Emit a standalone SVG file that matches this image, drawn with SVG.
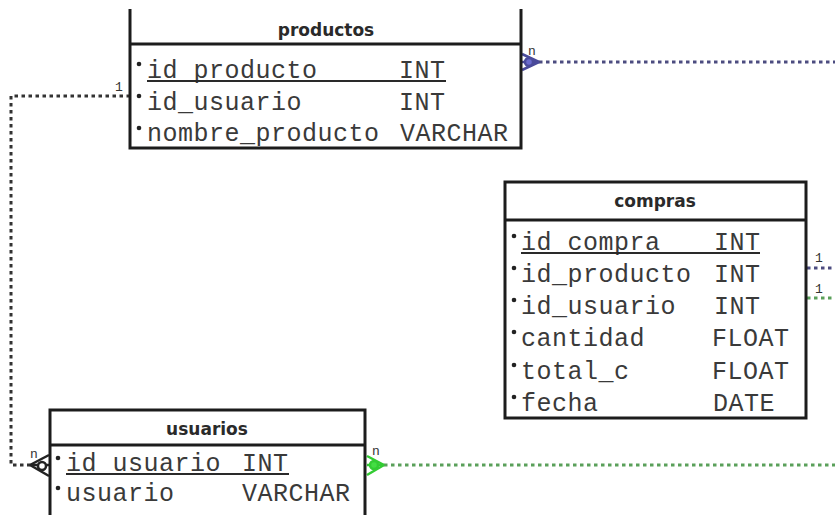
<svg xmlns="http://www.w3.org/2000/svg" width="835" height="515" viewBox="0 0 835 515">
  <style>
    .frame { fill: #fff; stroke: #1c1c1c; stroke-width: 3; }
    .sep { stroke: #1c1c1c; stroke-width: 3; }
    .title { font-family: "DejaVu Sans", Verdana, sans-serif; font-weight: bold; font-size: 17px; fill: #2a2a2a; text-anchor: middle; }
    .fld { font-family: "Liberation Mono", "Courier New", monospace; font-size: 25px; letter-spacing: 0.5px; fill: #3a3a3a; }
    .pk { stroke: #2a2a2a; stroke-width: 2; }
    .bul { fill: #222; }
    .card { font-family: "Liberation Mono", "Courier New", monospace; font-size: 13px; fill: #333; }
    .rel-black { fill: none; stroke: #333; stroke-width: 3; stroke-dasharray: 3.5 3.5; }
    .rel-blue { fill: none; stroke: #4c4c80; stroke-width: 3; stroke-dasharray: 3.5 3.5; }
    .rel-green { fill: none; stroke: #5aa05a; stroke-width: 3; stroke-dasharray: 3.5 3.5; }
  </style>

  <!-- relationship lines -->
  <g id="connectors">
    <!-- productos.id_usuario -> usuarios.id_usuario -->
    <polyline class="rel-black" points="130,96 11,96 11,465 30,465"/>
    <g stroke="#222" stroke-width="2.5" fill="none">
      <line x1="30" y1="465" x2="49" y2="455"/>
      <line x1="30" y1="465" x2="49" y2="465"/>
      <line x1="30" y1="465" x2="49" y2="476"/>
      <circle cx="42" cy="466" r="4" fill="#fff"/>
    </g>
    <text class="card" x="115" y="91">1</text>
    <text class="card" x="30" y="458">n</text>

    <!-- productos -> compras.id_producto -->
    <line class="rel-blue" x1="539" y1="62" x2="835" y2="62"/>
    <g stroke="#4a4a9a" stroke-width="2.5" fill="none">
      <line x1="539" y1="62" x2="522" y2="54"/>
      <line x1="539" y1="62" x2="522" y2="62"/>
      <line x1="539" y1="62" x2="522" y2="70"/>
      <circle cx="529" cy="62" r="4" fill="#6a6acc"/>
    </g>
    <text class="card" x="528" y="55">n</text>
    <line class="rel-blue" x1="807" y1="268" x2="835" y2="268"/>
    <text class="card" x="815" y="262">1</text>

    <!-- usuarios -> compras.id_usuario -->
    <line class="rel-green" x1="384" y1="465" x2="835" y2="465"/>
    <g stroke="#33cc33" stroke-width="2.5" fill="none">
      <line x1="384" y1="465" x2="367" y2="456"/>
      <line x1="384" y1="465" x2="367" y2="465"/>
      <line x1="384" y1="465" x2="367" y2="475"/>
      <circle cx="374" cy="465" r="4" fill="#44dd44"/>
    </g>
    <text class="card" x="372" y="455">n</text>
    <line class="rel-green" x1="807" y1="298" x2="835" y2="298"/>
    <text class="card" x="815" y="293" fill="#3a7a3a">1</text>
  </g>

  <!-- productos -->
  <g id="productos">
    <path class="frame" d="M130,9 V148 H521 V9"/>
    <line class="sep" x1="130" y1="44" x2="521" y2="44"/>
    <text class="title" x="326" y="36">productos</text>
    <circle class="bul" cx="139" cy="64" r="2.3"/>
    <circle class="bul" cx="139" cy="96" r="2.3"/>
    <circle class="bul" cx="139" cy="128" r="2.3"/>
    <text class="fld" x="147" y="78">id_producto</text>
    <text class="fld" x="399" y="78">INT</text>
    <line class="pk" x1="147" y1="81" x2="446" y2="81"/>
    <text class="fld" x="147" y="110">id_usuario</text>
    <text class="fld" x="399" y="110">INT</text>
    <text class="fld" x="147" y="141">nombre_producto</text>
    <text class="fld" x="400" y="141">VARCHAR</text>
  </g>

  <!-- compras -->
  <g id="compras">
    <rect class="frame" x="505" y="182" width="301" height="236"/>
    <line class="sep" x1="505" y1="220" x2="806" y2="220"/>
    <text class="title" x="655" y="207">compras</text>
    <circle class="bul" cx="514" cy="236" r="2.3"/>
    <circle class="bul" cx="514" cy="268" r="2.3"/>
    <circle class="bul" cx="514" cy="300" r="2.3"/>
    <circle class="bul" cx="514" cy="332" r="2.3"/>
    <circle class="bul" cx="514" cy="365" r="2.3"/>
    <circle class="bul" cx="514" cy="397" r="2.3"/>
    <text class="fld" x="521" y="250">id_compra</text>
    <text class="fld" x="714" y="250">INT</text>
    <line class="pk" x1="521" y1="253" x2="760" y2="253"/>
    <text class="fld" x="521" y="282">id_producto</text>
    <text class="fld" x="714" y="282">INT</text>
    <text class="fld" x="521" y="314">id_usuario</text>
    <text class="fld" x="714" y="314">INT</text>
    <text class="fld" x="521" y="346">cantidad</text>
    <text class="fld" x="712" y="346">FLOAT</text>
    <text class="fld" x="521" y="379">total_c</text>
    <text class="fld" x="712" y="379">FLOAT</text>
    <text class="fld" x="521" y="411">fecha</text>
    <text class="fld" x="713" y="411">DATE</text>
  </g>

  <!-- usuarios -->
  <g id="usuarios">
    <path class="frame" d="M50,520 V410 H365 V520"/>
    <line class="sep" x1="50" y1="445" x2="365" y2="445"/>
    <text class="title" x="207" y="435">usuarios</text>
    <circle class="bul" cx="58" cy="458" r="2.3"/>
    <circle class="bul" cx="58" cy="488" r="2.3"/>
    <text class="fld" x="66" y="471">id_usuario</text>
    <text class="fld" x="242" y="471">INT</text>
    <line class="pk" x1="66" y1="474" x2="289" y2="474"/>
    <text class="fld" x="66" y="501">usuario</text>
    <text class="fld" x="242" y="501">VARCHAR</text>
  </g>
</svg>
